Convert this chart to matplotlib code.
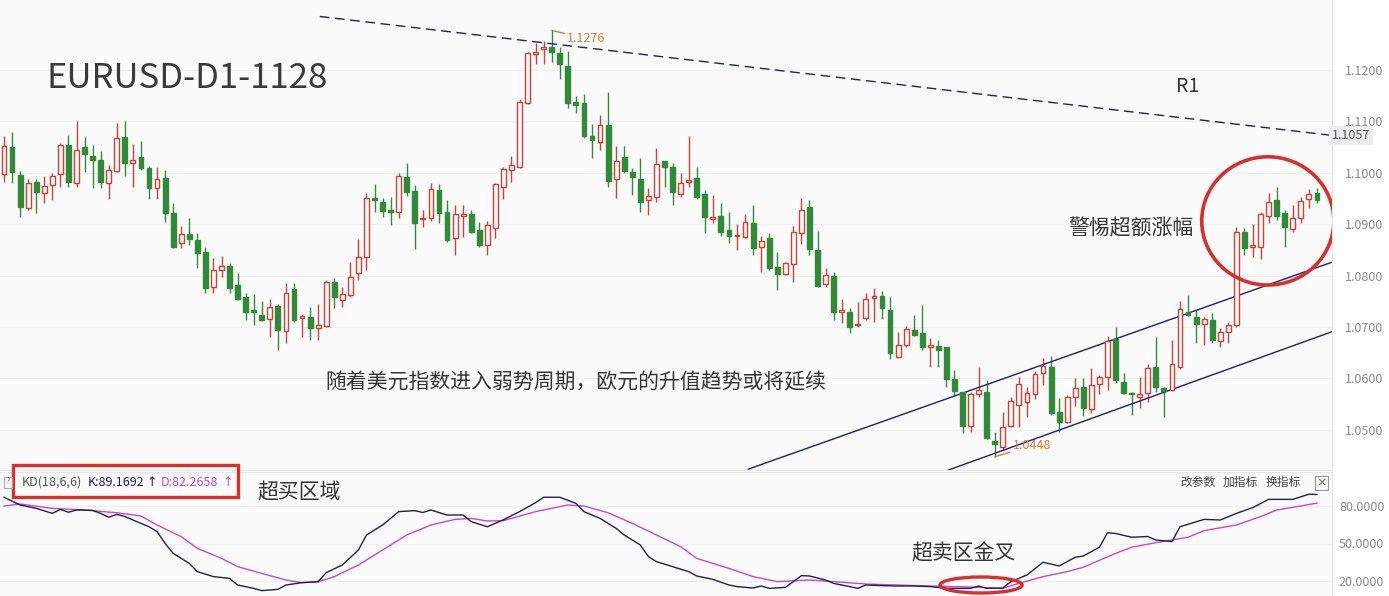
import matplotlib.pyplot as plt
from matplotlib.patches import Ellipse, Rectangle
from matplotlib.ticker import FormatStrFormatter
import numpy as np

plt.rcParams['font.family'] = ['Noto Sans CJK SC', 'DejaVu Sans']

# daily EURUSD candles
opens = [1.0997, 1.1050, 1.0995, 1.0931, 1.0982, 1.0960, 1.0976, 1.0997, 1.1053, 1.0980,
         1.1050, 1.1032, 1.1024, 1.0980, 1.1003, 1.1069, 1.1018, 1.1030, 1.1009, 1.0970,
         1.0989, 1.0921, 1.0863, 1.0881, 1.0869, 1.0846, 1.0778, 1.0811, 1.0818, 1.0782,
         1.0758, 1.0733, 1.0723, 1.0716, 1.0741, 1.0692, 1.0774, 1.0717, 1.0719, 1.0698,
         1.0702, 1.0787, 1.0752, 1.0762, 1.0805, 1.0836, 1.0951, 1.0943, 1.0927, 1.0923,
         1.0991, 1.0964, 1.0910, 1.0912, 1.0966, 1.0923, 1.0873, 1.0916, 1.0919, 1.0888,
         1.0859, 1.0892, 1.0972, 1.1005, 1.1011, 1.1135, 1.1230, 1.1240, 1.1244, 1.1232,
         1.1207, 1.1137, 1.1135, 1.1071, 1.1059, 1.1092, 1.0987, 1.1030, 1.1001, 1.0987,
         1.0947, 1.0952, 1.1022, 1.1011, 1.0958, 1.0982, 1.0989, 1.0958, 1.0910, 1.0916,
         1.0888, 1.0877, 1.0875, 1.0902, 1.0855, 1.0873, 1.0817, 1.0803, 1.0822, 1.0883,
         1.0933, 1.0850, 1.0784, 1.0799, 1.0729, 1.0729, 1.0704, 1.0717, 1.0756, 1.0760,
         1.0733, 1.0642, 1.0665, 1.0694, 1.0688, 1.0661, 1.0663, 1.0661, 1.0599, 1.0574,
         1.0508, 1.0570, 1.0574, 1.0479, 1.0467, 1.0508, 1.0549, 1.0554, 1.0570, 1.0611,
         1.0622, 1.0535, 1.0516, 1.0564, 1.0583, 1.0541, 1.0589, 1.0603, 1.0677, 1.0593,
         1.0572, 1.0564, 1.0572, 1.0622, 1.0582, 1.0578, 1.0622, 1.0729, 1.0719, 1.0706,
         1.0714, 1.0673, 1.0690, 1.0704, 1.0885, 1.0855, 1.0855, 1.0916, 1.0947, 1.0921,
         1.0890, 1.0912, 1.0949, 1.0960]
highs = [1.1071, 1.1079, 1.1003, 1.0987, 1.0987, 1.0993, 1.0999, 1.1057, 1.1073, 1.1100,
         1.1069, 1.1053, 1.1042, 1.1015, 1.1096, 1.1100, 1.1055, 1.1061, 1.1013, 1.1011,
         1.1005, 1.0941, 1.0896, 1.0912, 1.0883, 1.0855, 1.0834, 1.0838, 1.0824, 1.0805,
         1.0766, 1.0764, 1.0751, 1.0754, 1.0745, 1.0785, 1.0785, 1.0725, 1.0739, 1.0745,
         1.0791, 1.0795, 1.0778, 1.0826, 1.0871, 1.0960, 1.0978, 1.0951, 1.0952, 1.0999,
         1.1018, 1.0976, 1.0927, 1.0980, 1.0978, 1.0947, 1.0937, 1.0937, 1.0927, 1.0904,
         1.0906, 1.0980, 1.1011, 1.1032, 1.1143, 1.1234, 1.1252, 1.1255, 1.1276, 1.1244,
         1.1236, 1.1149, 1.1153, 1.1094, 1.1112, 1.1156, 1.1051, 1.1051, 1.1009, 1.1028,
         1.0970, 1.1048, 1.1023, 1.1018, 1.0999, 1.1071, 1.1011, 1.0966, 1.0956, 1.0941,
         1.0923, 1.0900, 1.0919, 1.0937, 1.0877, 1.0883, 1.0846, 1.0826, 1.0896, 1.0951,
         1.0947, 1.0886, 1.0815, 1.0807, 1.0754, 1.0737, 1.0749, 1.0766, 1.0776, 1.0770,
         1.0758, 1.0690, 1.0702, 1.0723, 1.0743, 1.0679, 1.0675, 1.0661, 1.0617, 1.0574,
         1.0574, 1.0622, 1.0597, 1.0496, 1.0535, 1.0564, 1.0603, 1.0583, 1.0615, 1.0640,
         1.0644, 1.0562, 1.0568, 1.0601, 1.0601, 1.0620, 1.0607, 1.0682, 1.0700, 1.0611,
         1.0574, 1.0603, 1.0628, 1.0681, 1.0583, 1.0675, 1.0751, 1.0762, 1.0733, 1.0719,
         1.0727, 1.0698, 1.0710, 1.0894, 1.0892, 1.0900, 1.0923, 1.0960, 1.0972, 1.0927,
         1.0937, 1.0952, 1.0968, 1.0970]
lows = [1.0982, 1.0980, 1.0914, 1.0927, 1.0921, 1.0941, 1.0947, 1.0972, 1.0972, 1.0972,
        1.1001, 1.0970, 1.0970, 1.0949, 1.1001, 1.0993, 1.0972, 1.1005, 1.0949, 1.0949,
        1.0904, 1.0853, 1.0853, 1.0859, 1.0815, 1.0766, 1.0766, 1.0797, 1.0766, 1.0752,
        1.0714, 1.0704, 1.0712, 1.0681, 1.0655, 1.0669, 1.0710, 1.0681, 1.0675, 1.0675,
        1.0700, 1.0737, 1.0739, 1.0758, 1.0791, 1.0811, 1.0923, 1.0914, 1.0898, 1.0912,
        1.0954, 1.0851, 1.0894, 1.0906, 1.0902, 1.0865, 1.0840, 1.0875, 1.0883, 1.0855,
        1.0840, 1.0873, 1.0949, 1.0982, 1.1008, 1.1133, 1.1211, 1.1211, 1.1215, 1.1182,
        1.1125, 1.1116, 1.1067, 1.1028, 1.1044, 1.0972, 1.0951, 1.0999, 1.0956, 1.0923,
        1.0918, 1.0943, 1.0972, 1.0937, 1.0952, 1.0972, 1.0949, 1.0883, 1.0902, 1.0877,
        1.0863, 1.0850, 1.0873, 1.0840, 1.0807, 1.0811, 1.0772, 1.0801, 1.0787, 1.0861,
        1.0840, 1.0778, 1.0778, 1.0714, 1.0708, 1.0688, 1.0700, 1.0714, 1.0710, 1.0716,
        1.0638, 1.0640, 1.0661, 1.0682, 1.0655, 1.0622, 1.0622, 1.0583, 1.0566, 1.0494,
        1.0496, 1.0564, 1.0482, 1.0448, 1.0461, 1.0506, 1.0506, 1.0525, 1.0560, 1.0587,
        1.0529, 1.0496, 1.0514, 1.0547, 1.0527, 1.0533, 1.0570, 1.0578, 1.0591, 1.0570,
        1.0529, 1.0543, 1.0554, 1.0574, 1.0525, 1.0576, 1.0618, 1.0722, 1.0669, 1.0665,
        1.0669, 1.0661, 1.0669, 1.0700, 1.0840, 1.0836, 1.0832, 1.0902, 1.0908, 1.0855,
        1.0885, 1.0902, 1.0931, 1.0941]
closes = [1.1051, 1.1001, 1.0933, 1.0980, 1.0962, 1.0974, 1.0993, 1.1053, 1.0982, 1.1044,
          1.1036, 1.1024, 1.0982, 1.1005, 1.1067, 1.1018, 1.1024, 1.1009, 1.0970, 1.0987,
          1.0921, 1.0855, 1.0881, 1.0871, 1.0844, 1.0776, 1.0811, 1.0818, 1.0776, 1.0754,
          1.0729, 1.0729, 1.0714, 1.0739, 1.0694, 1.0766, 1.0714, 1.0721, 1.0698, 1.0704,
          1.0787, 1.0758, 1.0764, 1.0797, 1.0836, 1.0951, 1.0947, 1.0925, 1.0923, 1.0993,
          1.0962, 1.0902, 1.0912, 1.0968, 1.0921, 1.0869, 1.0919, 1.0919, 1.0885, 1.0859,
          1.0898, 1.0978, 1.1007, 1.1015, 1.1137, 1.1232, 1.1234, 1.1244, 1.1234, 1.1211,
          1.1135, 1.1131, 1.1071, 1.1063, 1.1092, 1.0984, 1.1022, 1.1003, 1.0991, 1.0943,
          1.0954, 1.1017, 1.1011, 1.0962, 1.0980, 1.0985, 1.0952, 1.0914, 1.0914, 1.0885,
          1.0877, 1.0879, 1.0904, 1.0853, 1.0867, 1.0815, 1.0803, 1.0824, 1.0885, 1.0927,
          1.0851, 1.0780, 1.0801, 1.0729, 1.0733, 1.0700, 1.0706, 1.0754, 1.0760, 1.0737,
          1.0650, 1.0665, 1.0696, 1.0684, 1.0661, 1.0665, 1.0655, 1.0599, 1.0576, 1.0508,
          1.0570, 1.0578, 1.0484, 1.0473, 1.0506, 1.0556, 1.0589, 1.0572, 1.0609, 1.0624,
          1.0533, 1.0516, 1.0564, 1.0582, 1.0543, 1.0587, 1.0603, 1.0673, 1.0597, 1.0572,
          1.0570, 1.0570, 1.0620, 1.0583, 1.0576, 1.0628, 1.0735, 1.0723, 1.0706, 1.0716,
          1.0675, 1.0690, 1.0704, 1.0885, 1.0853, 1.0859, 1.0919, 1.0943, 1.0916, 1.0894,
          1.0912, 1.0945, 1.0958, 1.0947]

# KD(18,6,6) lines, sampled at bar numbers
k_idx = [0, 2, 4, 6, 7, 8, 9, 11, 12, 13, 14, 15, 16, 18, 19, 20, 21, 23, 24, 26,
         28, 29, 31, 32, 34, 35, 37, 39, 40, 42, 44, 45, 47, 48, 49, 51, 52, 53, 55, 57,
         58, 60, 62, 64, 66, 67, 69, 71, 72, 74, 76, 77, 79, 80, 81, 83, 85, 86, 88, 90,
         91, 93, 94, 95, 97, 98, 99, 100, 102, 103, 105, 106, 107, 109, 111, 113, 115, 117, 120, 121,
         122, 124, 125, 127, 129, 131, 133, 134, 136, 137, 138, 140, 142, 143, 145, 146, 149, 151, 153, 155,
         157, 159, 160, 162, 163]
k_vals = [87.0, 80.8, 78.1, 74.1, 77.3, 75.0, 76.8, 76.5, 74.1, 71.0, 73.3, 71.6, 68.8, 63.4, 59.5, 50.1, 42.1, 34.1, 27.5, 23.5,
          22.1, 16.8, 14.1, 12.3, 13.3, 16.8, 18.7, 19.5, 26.7, 32.8, 44.8, 56.8, 64.8, 70.1, 75.5, 76.3, 74.8, 76.8, 72.8, 72.8,
          67.5, 63.4, 69.0, 75.5, 82.7, 87.0, 87.0, 82.1, 75.5, 70.1, 62.1, 56.8, 48.8, 39.5, 35.5, 31.5, 27.5, 24.0, 21.3, 16.8,
          15.5, 14.4, 16.0, 14.1, 14.9, 19.5, 24.3, 24.0, 20.8, 18.1, 15.5, 14.1, 16.8, 16.3, 16.0, 16.0, 15.5, 14.1, 14.1, 16.0,
          14.1, 14.4, 19.5, 24.8, 35.0, 32.0, 39.0, 40.0, 47.0, 58.6, 58.0, 55.0, 55.6, 52.8, 51.5, 63.4, 69.3, 68.8, 74.1, 78.6,
          85.3, 85.3, 85.3, 89.4, 89.2]
d_idx = [0, 2, 6, 10, 14, 17, 19, 22, 24, 27, 29, 32, 35, 37, 39, 41, 44, 47, 50, 53,
         56, 58, 60, 62, 66, 70, 72, 75, 78, 81, 84, 86, 90, 93, 96, 100, 103, 107, 111, 115,
         120, 124, 126, 129, 132, 134, 138, 140, 143, 147, 149, 153, 156, 158, 161, 163]
d_vals = [80.0, 81.6, 78.1, 76.8, 74.6, 72.0, 64.8, 55.5, 46.1, 38.1, 31.5, 26.1, 20.8, 18.7, 19.3, 23.5, 32.8, 44.8, 56.8, 64.8,
          69.3, 70.1, 68.0, 68.3, 75.5, 80.8, 80.0, 74.6, 66.1, 56.8, 47.5, 38.1, 30.1, 23.5, 19.5, 20.8, 19.5, 17.6, 16.8, 16.0,
          15.2, 14.1, 18.1, 23.5, 27.5, 31.0, 42.1, 47.0, 50.7, 55.0, 60.3, 64.8, 71.5, 76.8, 80.0, 82.3]

price_ticks = [1.05, 1.06, 1.07, 1.08, 1.09, 1.10, 1.11, 1.12]
kd_ticks = [20, 50, 80]

# hand-drawn lines: (bar, price) end points
r1_bars, r1_prices = [39.2, 164.9], [1.1303, 1.1072]
up_bars, up_prices = [92.4, 164.9], [1.0424, 1.0826]
low_bars, low_prices = [117.2, 164.9], [1.0422, 1.0691]

W, H = 1389, 596
fig = plt.figure(figsize=(W / 100, H / 100), dpi=100, facecolor='white')
ax = fig.add_axes([0, (H - 470) / H, 1332 / W, 470 / H])
kd = fig.add_axes([0, 0, 1332 / W, 124 / H])

red = '#cf3f36'
green = '#2f8b38'
bg = '#fbfbfb'

o = np.array(opens)
c = np.array(closes)
h = np.array(highs)
l = np.array(lows)
x = np.arange(len(o))
up = c >= o
body_lo = np.minimum(o, c)
body_h = np.maximum(np.abs(c - o), 0.00007)

ax.set_facecolor(bg)
ax.vlines(x[up], l[up], h[up], color=red, lw=1, zorder=2)
ax.vlines(x[~up], l[~up], h[~up], color=green, lw=1, zorder=2)
ax.bar(x[up], body_h[up], bottom=body_lo[up], width=0.6, facecolor=bg,
       edgecolor=red, lw=1, zorder=3)
ax.bar(x[~up], body_h[~up], bottom=body_lo[~up], width=0.6, facecolor=green,
       edgecolor=green, lw=1, zorder=3)

ax.plot(r1_bars, r1_prices, color='#1c1c7a', lw=1, ls=(0, (7, 4)))
ax.plot(up_bars, up_prices, color='#1c1c7a', lw=1)
ax.plot(low_bars, low_prices, color='#1c1c7a', lw=1)

ax.add_patch(Ellipse((156.9, 1.0906), 16.4, 0.0249, fill=False,
                     edgecolor='#d8302a', lw=2.6, zorder=5))

hi = int(np.argmax(h))
lo = int(np.argmin(l))
orange = '#e0782e'
ax.annotate(f'{h[hi]:.4f}', xy=(hi, h[hi]), xytext=(11, -6), textcoords='offset points',
            color=orange, fontsize=9, ha='left', va='center',
            arrowprops=dict(arrowstyle='-', color=orange, lw=1, shrinkA=0, shrinkB=0))
ax.annotate(f'{l[lo]:.4f}', xy=(lo, l[lo]), xytext=(13, 8), textcoords='offset points',
            color=orange, fontsize=9, ha='left', va='center',
            arrowprops=dict(arrowstyle='-', color=orange, lw=1, shrinkA=0, shrinkB=0))

ax.set_xlim(-0.5, 164.87)
ax.set_ylim(1.04223, 1.1335)
ax.set_xticks([])
ax.set_yticks(price_ticks)
ax.yaxis.tick_right()
ax.yaxis.set_major_formatter(FormatStrFormatter('%.4f'))
ax.tick_params(axis='y', length=0, pad=9, labelsize=9, labelcolor='#8a8a8a')
ax.grid(axis='y', color='#efefef', lw=0.8)
ax.set_axisbelow(True)
for s in ['top', 'left']:
    ax.spines[s].set_visible(False)
ax.spines['right'].set_color('#e6e6e6')
ax.spines['bottom'].set_color('#e6e6e6')

ax.text(1.0, r1_prices[1], '1.1057', transform=ax.get_yaxis_transform(), ha='left',
        va='center', fontsize=9, color='#555555',
        bbox=dict(boxstyle='square,pad=0.25', facecolor='#ededed', edgecolor='none'))

# KD pane
kd.set_facecolor(bg)
kd.plot(d_idx, d_vals, color='#cc44cc', lw=1)
kd.plot(k_idx, k_vals, color='#1e1e5a', lw=1)
kd.add_patch(Ellipse((121.3, 16.8), 10.2, 12.8, fill=False, edgecolor='#d8302a', lw=2.4, zorder=5))
kd.set_xlim(-0.5, 164.87)
kd.set_ylim(8, 107.2)
kd.set_xticks([])
kd.set_yticks(kd_ticks)
kd.yaxis.tick_right()
kd.yaxis.set_major_formatter(FormatStrFormatter('%.4f'))
kd.tick_params(axis='y', length=0, pad=5, labelsize=9, labelcolor='#8a8a8a')
kd.grid(axis='y', color='#efefef', lw=0.8)
for s in ['bottom', 'left']:
    kd.spines[s].set_visible(False)
kd.spines['right'].set_color('#e6e6e6')
kd.spines['top'].set_color('#e6e6e6')


def fx(px):
    return px / W


def fy(py):
    return 1 - py / H


fig.text(fx(46), fy(78), 'EURUSD-D1-1128', fontsize=25, color='#3a3a3a', va='center')
fig.text(fx(1188), fy(87), 'R1', fontsize=14, color='#333333', ha='center', va='center')
fig.text(fx(1131), fy(228), '警惕超额涨幅', fontsize=15, color='#333333', ha='center', va='center')
fig.text(fx(325), fy(382), '随着美元指数进入弱势周期，欧元的升值趋势或将延续', fontsize=15,
         color='#333333', va='center')
fig.text(fx(257), fy(492), '超买区域', fontsize=15, color='#333333', va='center')
fig.text(fx(911), fy(553), '超卖区金叉', fontsize=15, color='#333333', va='center')

# KD header
fig.patches.append(Rectangle((fx(13), fy(497)), fx(225), 32 / H, transform=fig.transFigure,
                             fill=False, edgecolor='#d8302a', lw=2.4))
fig.patches.append(Rectangle((fx(4), fy(488)), fx(8), 11 / H, transform=fig.transFigure,
                             fill=False, edgecolor='#aaaaaa', lw=0.8))
fig.text(fx(8), fy(482), '?', fontsize=6.5, color='#888888', ha='center', va='center')
fig.text(fx(22), fy(482), 'KD(18,6,6)', fontsize=9, color='#555555', va='center')
fig.text(fx(88), fy(482), 'K:89.1692', fontsize=9, color='#1e1e5a', va='center',
         fontweight='medium')
fig.text(fx(146), fy(482), '↑', fontsize=9, color='#1e1e5a', va='center',
         family=['DejaVu Sans'])
fig.text(fx(161), fy(482), 'D:82.2658', fontsize=9, color='#cc44cc', va='center')
fig.text(fx(222), fy(482), '↑', fontsize=9, color='#cc44cc', va='center',
         family=['DejaVu Sans'])

fig.text(fx(1180), fy(482), '改参数', fontsize=8.5, color='#444444', va='center')
fig.text(fx(1223), fy(482), '加指标', fontsize=8.5, color='#444444', va='center')
fig.text(fx(1266), fy(482), '换指标', fontsize=8.5, color='#444444', va='center')
fig.patches.append(Rectangle((fx(1315), fy(490)), fx(13), 14 / H, transform=fig.transFigure,
                             fill=False, edgecolor='#999999', lw=0.8))
fig.text(fx(1321.5), fy(483), '×', fontsize=9, color='#666666', ha='center', va='center',
         family=['DejaVu Sans'])

fig.savefig('out.png', dpi=100, facecolor='white')
